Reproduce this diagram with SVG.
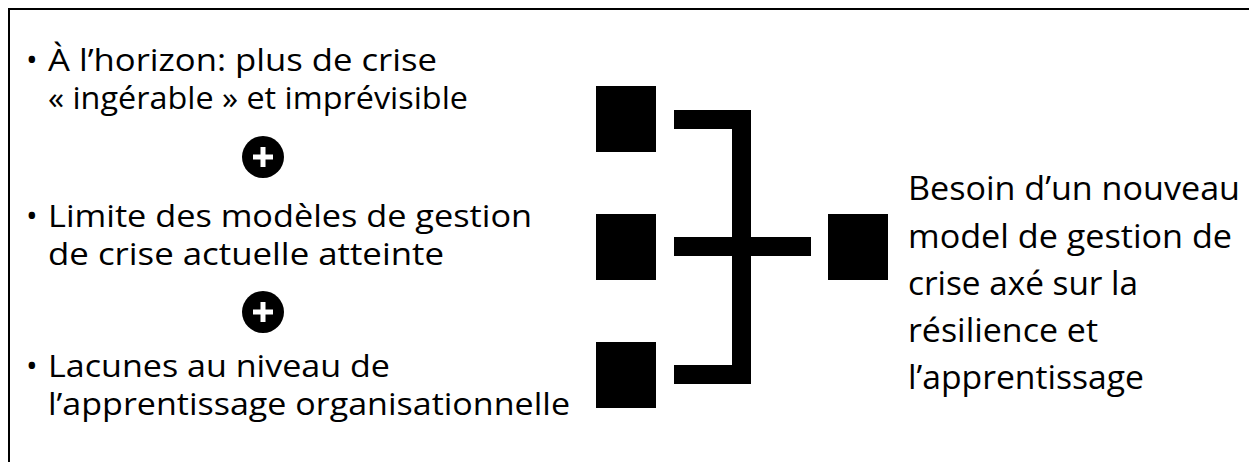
<svg xmlns="http://www.w3.org/2000/svg" width="1249" height="462" viewBox="0 0 1249 462">
  <style>
    .txt { font-family: "Open Sans", "Noto Sans", "Liberation Sans", sans-serif; fill: #000; }
    .left { font-size: 31px; }
    .right { font-size: 33px; }
    .blk { fill: #000; }
  </style>
  <defs>
    <g id="plus">
      <circle cx="0" cy="0" r="21" fill="#000"/>
      <rect x="-10" y="-2.5" width="20" height="5" fill="#fff"/>
      <rect x="-2.5" y="-10" width="5" height="20" fill="#fff"/>
    </g>
  </defs>
  <rect width="1249" height="462" fill="#fff"/>
  <!-- frame -->
  <path d="M9,462 V9 H1249" fill="none" stroke="#000" stroke-width="2"/>

  <!-- left bullet list -->
  <g id="item-horizon" class="txt left">
    <text x="26" y="71">•</text>
    <text x="48" y="71" textLength="389" lengthAdjust="spacingAndGlyphs">À l’horizon: plus de crise</text>
    <text x="48" y="109" textLength="420" lengthAdjust="spacingAndGlyphs">« ingérable » et imprévisible</text>
  </g>
  <g id="plus-1"><use href="#plus" x="263" y="157"/></g>
  <g id="item-limite" class="txt left">
    <text x="26" y="227">•</text>
    <text x="48" y="227" textLength="484" lengthAdjust="spacingAndGlyphs">Limite des modèles de gestion</text>
    <text x="48" y="265" textLength="396" lengthAdjust="spacingAndGlyphs">de crise actuelle atteinte</text>
  </g>
  <g id="plus-2"><use href="#plus" x="263" y="312"/></g>
  <g id="item-lacunes" class="txt left">
    <text x="26" y="377">•</text>
    <text x="48" y="377" textLength="342" lengthAdjust="spacingAndGlyphs">Lacunes au niveau de</text>
    <text x="48" y="415" textLength="522" lengthAdjust="spacingAndGlyphs">l’apprentissage organisationnelle</text>
  </g>

  <!-- input blocks -->
  <g id="block-1"><rect class="blk" x="596" y="86" width="60" height="66"/></g>
  <g id="block-2"><rect class="blk" x="596" y="214" width="60" height="66"/></g>
  <g id="block-3"><rect class="blk" x="596" y="342" width="60" height="66"/></g>

  <!-- bracket joining the three blocks -->
  <g id="connectors" class="blk">
    <rect x="674" y="110" width="77" height="19"/>
    <rect x="732" y="110" width="19" height="274"/>
    <rect x="674" y="365" width="77" height="19"/>
    <rect x="674" y="237" width="137" height="19"/>
  </g>

  <!-- result block -->
  <g id="block-result"><rect class="blk" x="828" y="214" width="60" height="66"/></g>

  <g id="result-text" class="txt right">
    <text x="908" y="200" textLength="332" lengthAdjust="spacingAndGlyphs">Besoin d’un nouveau</text>
    <text x="908" y="248" textLength="324" lengthAdjust="spacingAndGlyphs">model de gestion de</text>
    <text x="908" y="295" textLength="230" lengthAdjust="spacingAndGlyphs">crise axé sur la</text>
    <text x="908" y="342" textLength="190" lengthAdjust="spacingAndGlyphs">résilience et</text>
    <text x="908" y="389" textLength="236" lengthAdjust="spacingAndGlyphs">l’apprentissage</text>
  </g>
</svg>
